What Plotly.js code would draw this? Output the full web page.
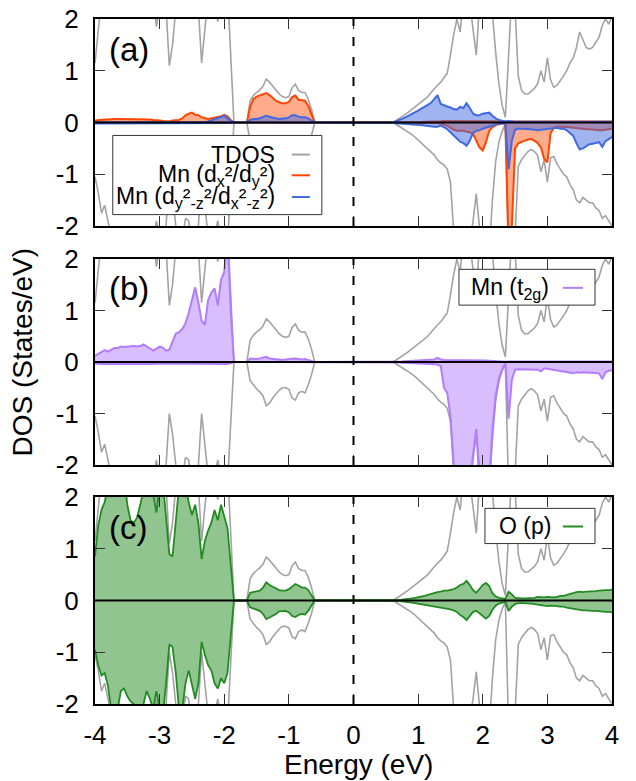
<!DOCTYPE html>
<html><head><meta charset="utf-8">
<script src="https://cdn.plot.ly/plotly-3.0.1.min.js"></script>
<style>html,body{margin:0;padding:0;background:#fff;}#chart{width:636px;height:781px;}</style>
</head><body><div id="chart"></div>
<script>
// Energy grid (eV)
const energy = [
-4.00,-3.95,-3.90,-3.85,-3.80,-3.75,-3.70,-3.65,-3.60,-3.55,
-3.50,-3.45,-3.40,-3.35,-3.30,-3.25,-3.20,-3.15,-3.10,-3.05,
-3.00,-2.95,-2.90,-2.85,-2.80,-2.75,-2.70,-2.65,-2.60,-2.55,
-2.50,-2.45,-2.40,-2.35,-2.30,-2.25,-2.20,-2.15,-2.10,-2.05,
-2.00,-1.95,-1.90,-1.85,-1.80,-1.75,-1.70,-1.65,-1.60,-1.55,
-1.50,-1.45,-1.40,-1.35,-1.30,-1.25,-1.20,-1.15,-1.10,-1.05,
-1.00,-0.95,-0.90,-0.85,-0.80,-0.75,-0.70,-0.65,-0.60,-0.55,
-0.50,-0.45,-0.40,-0.35,-0.30,-0.25,-0.20,-0.15,-0.10,-0.05,
0.00,0.05,0.10,0.15,0.20,0.25,0.30,0.35,0.40,0.45,
0.50,0.55,0.60,0.65,0.70,0.75,0.80,0.85,0.90,0.95,
1.00,1.05,1.10,1.15,1.20,1.25,1.30,1.35,1.40,1.45,
1.50,1.55,1.60,1.65,1.70,1.75,1.80,1.85,1.90,1.95,
2.00,2.05,2.10,2.15,2.20,2.25,2.30,2.35,2.40,2.45,
2.50,2.55,2.60,2.65,2.70,2.75,2.80,2.85,2.90,2.95,
3.00,3.05,3.10,3.15,3.20,3.25,3.30,3.35,3.40,3.45,
3.50,3.55,3.60,3.65,3.70,3.75,3.80,3.85,3.90,3.95,
4.00];

// Total DOS (spin up / spin down)
const tdosUp = [
1.15,1.9,2.4,2.6,2.5,2.7,2.6,2.8,2.7,2.9,
2.6,2.5,2.4,2.6,2.8,3.0,2.9,2.7,2.4,1.85,
2.3,2.7,2.2,1.1,1.5,2.3,2.9,2.8,2.6,2.4,
2.9,2.7,2.2,1.15,1.8,2.4,2.5,2.3,1.95,2.4,
2.8,2.6,1.3,0,0,0,0,0,0.42,0.52,
0.58,0.63,0.7,0.84,0.78,0.7,0.62,0.55,0.5,0.48,
0.5,0.67,0.74,0.62,0.58,0.58,0.45,0.25,0,0,
0,0,0,0,0,0,0,0,0,0,
0,0,0,0,0,0,0,0,0,0,
0,0,0,0.03,0.07,0.11,0.15,0.2,0.25,0.3,
0.35,0.4,0.45,0.5,0.58,0.66,0.72,0.78,0.86,0.95,
1.3,1.7,2.0,1.75,2.4,2.6,2.3,1.8,1.3,2.3,
2.8,2.9,2.5,2.1,1.35,0.75,0.33,0.1,1.3,2.5,
2.2,0.9,0.62,0.55,0.55,0.6,0.66,0.75,1.0,0.78,
1.25,0.82,0.68,0.72,0.8,0.9,1.0,1.15,1.25,1.45,
1.75,1.6,1.45,1.42,1.45,1.55,1.65,1.88,2.0,1.9,
2.05];
const tdosDn = [
-1.05,-1.35,-1.75,-1.6,-1.9,-2.3,-2.5,-2.4,-2.2,-2.3,
-2.4,-2.5,-2.6,-2.5,-2.7,-2.5,-2.3,-2.4,-2.3,-1.9,
-2.3,-2.6,-2.0,-1.0,-1.4,-2.1,-2.6,-2.3,-1.85,-1.9,
-2.5,-2.4,-2.0,-1.0,-1.6,-2.2,-2.4,-2.2,-1.9,-2.3,
-2.6,-2.4,-1.3,0,0,0,0,0,-0.36,-0.45,
-0.52,-0.58,-0.66,-0.85,-0.8,-0.7,-0.62,-0.55,-0.5,-0.5,
-0.53,-0.7,-0.74,-0.6,-0.57,-0.6,-0.44,-0.25,0,0,
0,0,0,0,0,0,0,0,0,0,
0,0,0,0,0,0,0,0,0,0,
0,0,0,-0.03,-0.07,-0.1,-0.14,-0.18,-0.23,-0.28,
-0.34,-0.39,-0.44,-0.5,-0.56,-0.63,-0.72,-0.78,-0.82,-0.9,
-1.15,-2.1,-2.4,-2.3,-2.6,-2.5,-2.3,-1.9,-1.38,-2.2,
-2.7,-2.5,-2.5,-1.5,-0.75,-0.38,-0.17,-0.03,-2.5,-2.6,
-2.2,-0.85,-0.72,-0.64,-0.56,-0.52,-0.56,-0.64,-0.95,-0.72,
-1.15,-0.68,-0.66,-0.8,-0.9,-1.0,-1.05,-1.2,-1.3,-1.5,
-1.55,-1.45,-1.5,-1.55,-1.55,-1.65,-1.7,-1.85,-1.8,-1.9,
-2.0];

// Mn (dx2/dy2)
const mnXYUp = [
0.04,0.05,0.05,0.06,0.06,0.07,0.07,0.07,0.07,0.07,
0.07,0.07,0.07,0.07,0.07,0.06,0.06,0.06,0.05,0.05,
0.04,0.03,0.02,0.02,0.04,0.05,0.05,0.08,0.14,0.17,
0.19,0.15,0.14,0.1,0.08,0.07,0.08,0.09,0.1,0.12,
0.15,0.12,0.05,0,0,0,0,0,0.3,0.45,
0.5,0.52,0.55,0.57,0.53,0.47,0.42,0.39,0.37,0.37,
0.4,0.49,0.52,0.44,0.43,0.42,0.32,0.15,0,0,
0,0,0,0,0,0,0,0,0,0,
0,0,0,0,0,0,0,0,0,0,
0,0,0,0,0,0,0.005,0.005,0.01,0.01,
0.01,0.01,0.015,0.015,0.02,0.02,0.025,0.025,0.03,0.03,
0.03,0.03,0.035,0.035,0.035,0.035,0.035,0.035,0.035,0.035,
0.035,0.035,0.03,0.03,0.03,0.025,0.02,0.02,0.02,0.02,
0.02,0.02,0.02,0.02,0.02,0.02,0.02,0.02,0.02,0.02,
0.02,0.02,0.02,0.02,0.02,0.02,0.02,0.02,0.02,0.02,
0.02,0.02,0.02,0.02,0.02,0.02,0.02,0.02,0.02,0.02,
0.02];
const mnXYDn = [
0,0,0,0,0,0,0,0,0,0,
0,0,0,0,0,0,0,0,0,0,
0,0,0,0,0,0,0,0,0,0,
0,0,0,0,0,0,0,0,0,0,
0,0,0,0,0,0,0,0,0,0,
0,0,0,0,0,0,0,0,0,0,
0,0,0,0,0,0,0,0,0,0,
0,0,0,0,0,0,0,0,0,0,
0,0,0,0,0,0,0,0,0,0,
0,0,0,0,0,0,0,0,0,0,
0,0,0,-0.005,-0.005,-0.01,-0.01,-0.02,-0.04,-0.06,
-0.1,-0.14,-0.16,-0.16,-0.16,-0.18,-0.19,-0.22,-0.35,-0.48,
-0.54,-0.38,-0.16,-0.09,-0.05,-0.03,-0.02,-0.02,-2.5,-2.0,
-0.5,-0.4,-0.37,-0.35,-0.33,-0.32,-0.35,-0.4,-0.48,-0.7,
-0.77,-0.2,-0.1,-0.08,-0.08,-0.08,-0.09,-0.09,-0.1,-0.11,
-0.12,-0.12,-0.13,-0.13,-0.14,-0.14,-0.15,-0.15,-0.14,-0.13,
-0.12];

// Mn (dy2-z2/dx2-z2)
const mnYZUp = [
0.005,0.005,0.005,0.005,0.005,0.005,0.005,0.005,0.005,0.005,
0.005,0.005,0.005,0.005,0.005,0.005,0.005,0.005,0.005,0.005,
0.005,0.005,0.005,0.005,0.005,0.005,0.005,0.005,0.005,0.005,
0.005,0.005,0.005,0.01,0.01,0.02,0.04,0.07,0.09,0.11,
0.13,0.08,0.03,0,0,0,0,0,0.05,0.07,
0.07,0.08,0.11,0.13,0.11,0.09,0.08,0.07,0.07,0.08,
0.1,0.14,0.14,0.11,0.1,0.1,0.08,0.04,0,0,
0,0,0,0,0,0,0,0,0,0,
0,0,0,0,0,0,0,0,0,0,
0,0,0,0.02,0.04,0.07,0.1,0.13,0.17,0.2,
0.23,0.27,0.3,0.34,0.38,0.45,0.53,0.36,0.33,0.31,
0.29,0.26,0.25,0.3,0.28,0.37,0.28,0.17,0.14,0.14,
0.17,0.18,0.19,0.13,0.08,0.05,0.03,0.02,0.03,0.02,
0.015,0.015,0.015,0.015,0.015,0.015,0.015,0.015,0.015,0.015,
0.015,0.015,0.015,0.015,0.015,0.015,0.015,0.015,0.015,0.015,
0.015,0.015,0.015,0.015,0.015,0.015,0.015,0.015,0.015,0.015,
0.015];
const mnYZDn = [
-0.02,-0.02,-0.02,-0.02,-0.02,-0.02,-0.02,-0.02,-0.02,-0.02,
-0.02,-0.02,-0.02,-0.02,-0.02,-0.02,-0.02,-0.02,-0.02,-0.02,
-0.02,-0.02,-0.02,-0.02,-0.02,-0.02,-0.02,-0.02,-0.02,-0.02,
-0.02,-0.02,-0.02,-0.02,-0.02,-0.02,-0.02,-0.02,-0.02,-0.02,
-0.02,-0.02,-0.01,0,0,0,0,0,-0.01,-0.01,
-0.01,-0.01,-0.01,-0.01,-0.01,-0.01,-0.01,-0.01,-0.01,-0.01,
-0.01,-0.01,-0.01,-0.01,-0.01,-0.01,-0.01,-0.01,0,0,
0,0,0,0,0,0,0,0,0,0,
0,0,0,0,0,0,0,0,0,0,
0,0,0,-0.01,-0.02,-0.02,-0.03,-0.03,-0.04,-0.04,
-0.05,-0.05,-0.06,-0.07,-0.08,-0.08,-0.08,-0.06,-0.09,-0.13,
-0.19,-0.25,-0.3,-0.37,-0.4,-0.45,-0.35,-0.2,-0.16,-0.15,
-0.12,-0.1,-0.09,-0.06,-0.04,-0.02,-0.02,-0.03,-0.9,-0.35,
-0.14,-0.12,-0.12,-0.12,-0.12,-0.13,-0.14,-0.15,-0.14,-0.13,
-0.12,-0.11,-0.1,-0.1,-0.12,-0.12,-0.15,-0.2,-0.26,-0.4,
-0.52,-0.5,-0.46,-0.42,-0.41,-0.39,-0.38,-0.47,-0.36,-0.32,
-0.28];

// Mn (t2g)
const mnT2gUp = [
0.12,0.16,0.2,0.23,0.2,0.24,0.27,0.27,0.3,0.29,
0.3,0.3,0.31,0.3,0.31,0.34,0.3,0.25,0.22,0.26,
0.3,0.28,0.22,0.24,0.4,0.55,0.58,0.64,0.75,0.95,
1.2,1.45,1.15,0.8,0.72,1.2,1.35,1.43,1.1,1.6,
1.75,2.5,1.0,0,0,0,0,0,0.07,0.06,
0.06,0.07,0.08,0.1,0.07,0.06,0.05,0.04,0.04,0.05,
0.06,0.07,0.07,0.06,0.05,0.06,0.04,0.02,0,0,
0,0,0,0,0,0,0,0,0,0,
0,0,0,0,0,0,0,0,0,0,
0,0,0,0.005,0.01,0.012,0.015,0.018,0.02,0.022,
0.025,0.028,0.03,0.035,0.04,0.05,0.08,0.05,0.04,0.04,
0.04,0.04,0.04,0.035,0.035,0.035,0.03,0.03,0.03,0.03,
0.03,0.03,0.025,0.02,0.02,0.015,0.01,0.005,0.01,0.01,
0.01,0.01,0.01,0.01,0.01,0.01,0.01,0.01,0.01,0.01,
0.01,0.01,0.01,0.01,0.01,0.01,0.01,0.01,0.01,0.01,
0.01,0.01,0.01,0.01,0.01,0.01,0.01,0.01,0.01,0.01,
0.01];
const mnT2gDn = [
-0.03,-0.04,-0.04,-0.04,-0.04,-0.05,-0.04,-0.04,-0.04,-0.04,
-0.04,-0.04,-0.05,-0.04,-0.04,-0.04,-0.04,-0.04,-0.04,-0.03,
-0.03,-0.03,-0.04,-0.04,-0.04,-0.04,-0.04,-0.04,-0.04,-0.04,
-0.04,-0.04,-0.04,-0.04,-0.04,-0.04,-0.04,-0.04,-0.04,-0.04,
-0.04,-0.04,-0.02,0,0,0,0,0,-0.01,-0.01,
-0.01,-0.01,-0.01,-0.01,-0.01,-0.01,-0.01,-0.01,-0.01,-0.01,
-0.01,-0.01,-0.01,-0.01,-0.01,-0.01,-0.01,-0.01,0,0,
0,0,0,0,0,0,0,0,0,0,
0,0,0,0,0,0,0,0,0,0,
0,0,0,-0.01,-0.01,-0.015,-0.015,-0.02,-0.02,-0.025,
-0.03,-0.03,-0.035,-0.035,-0.04,-0.045,-0.05,-0.08,-0.5,-0.6,
-1.05,-2.0,-2.6,-2.7,-2.6,-2.5,-2.4,-1.8,-1.3,-2.4,
-2.8,-2.6,-2.3,-1.3,-0.65,-0.33,-0.15,-0.02,-1.1,-0.35,
-0.15,-0.14,-0.14,-0.14,-0.14,-0.15,-0.15,-0.15,-0.18,-0.12,
-0.13,-0.14,-0.15,-0.17,-0.18,-0.18,-0.19,-0.2,-0.22,-0.2,
-0.21,-0.2,-0.21,-0.21,-0.21,-0.21,-0.22,-0.33,-0.2,-0.17,
-0.16];

// O (p)
const oPUp = [
0.85,1.45,1.75,1.9,2.2,2.0,2.3,2.1,2.3,2.4,
1.85,1.55,1.5,1.6,1.85,2.2,2.4,2.3,2.05,1.7,
2.2,2.3,1.6,0.9,0.85,1.5,2.2,2.4,2.2,1.9,
1.65,1.85,1.5,0.8,1.15,1.35,1.5,1.75,1.55,1.85,
1.6,1.4,0.7,0,0,0,0,0,0.15,0.16,
0.17,0.19,0.25,0.35,0.3,0.27,0.24,0.2,0.19,0.19,
0.22,0.28,0.32,0.29,0.25,0.25,0.2,0.1,0,0,
0,0,0,0,0,0,0,0,0,0,
0,0,0,0,0,0,0,0,0,0,
0,0,0,0.005,0.01,0.015,0.02,0.03,0.04,0.05,
0.06,0.07,0.09,0.11,0.13,0.14,0.16,0.17,0.19,0.19,
0.2,0.22,0.25,0.3,0.32,0.38,0.3,0.2,0.15,0.22,
0.3,0.34,0.28,0.14,0.08,0.05,0.04,0.03,0.17,0.12,
0.05,0.04,0.04,0.04,0.04,0.04,0.05,0.07,0.06,0.06,
0.07,0.06,0.06,0.07,0.09,0.09,0.11,0.12,0.14,0.16,
0.17,0.16,0.17,0.17,0.18,0.18,0.19,0.2,0.2,0.2,
0.21];
const oPDn = [
-0.95,-1.25,-1.45,-1.4,-1.65,-2.1,-2.2,-2.1,-1.75,-1.7,
-1.85,-1.95,-2.0,-2.1,-2.2,-2.0,-1.75,-1.9,-2.1,-1.75,
-2.1,-2.2,-1.6,-0.85,-0.9,-1.4,-2.1,-2.1,-1.6,-1.35,
-1.6,-1.9,-1.6,-0.8,-1.05,-1.25,-1.35,-1.6,-1.7,-1.5,
-1.6,-1.4,-0.7,0,0,0,0,0,-0.13,-0.15,
-0.18,-0.2,-0.26,-0.36,-0.33,-0.3,-0.26,-0.21,-0.2,-0.2,
-0.23,-0.3,-0.32,-0.28,-0.26,-0.27,-0.2,-0.1,0,0,
0,0,0,0,0,0,0,0,0,0,
0,0,0,0,0,0,0,0,0,0,
0,0,0,-0.005,-0.01,-0.015,-0.02,-0.03,-0.04,-0.05,
-0.06,-0.07,-0.08,-0.09,-0.1,-0.11,-0.12,-0.13,-0.14,-0.16,
-0.17,-0.19,-0.22,-0.28,-0.32,-0.38,-0.3,-0.22,-0.2,-0.25,
-0.3,-0.35,-0.3,-0.18,-0.1,-0.06,-0.04,-0.03,-0.2,-0.12,
-0.07,-0.05,-0.05,-0.05,-0.05,-0.06,-0.07,-0.08,-0.09,-0.1,
-0.11,-0.1,-0.1,-0.11,-0.12,-0.12,-0.14,-0.15,-0.17,-0.18,
-0.19,-0.19,-0.19,-0.2,-0.2,-0.2,-0.21,-0.21,-0.22,-0.22,
-0.23];

const xTickVals = [-4,-3,-2,-1,0,1,2,3,4];
const xTickText = ['-4','-3','-2','-1','0','1','2','3','4'];
const yTickVals = [-2,-1,0,1,2];
const yTickText = ['-2','-1','0','1','2'];
const legendA = ['TDOS',
  'Mn (d<sub>x</sub>²/d<sub>y</sub>²)',
  'Mn (d<sub>y</sub>²<sub>-z</sub>²/d<sub>x</sub>²<sub>-z</sub>²)'];
const legendB = 'Mn (t<sub>2g</sub>)';
const legendC = 'O (p)';
const panelLabels = ['(a)','(b)','(c)'];

const FONT = 'Liberation Sans, Arial, Helvetica, sans-serif';
const GRAY = '#a3a3a3';
const ORANGE = '#ff4500', ORANGE_F = 'rgba(255,69,0,0.45)';
const BLUE = '#4169e1', BLUE_F = 'rgba(65,105,225,0.5)';
const PURPLE = '#b27cff', PURPLE_F = 'rgba(178,124,255,0.5)';
const GREEN = '#228b22', GREEN_F = 'rgba(34,139,34,0.5)';

function tr(y, p, color, fillcolor, width) {
  const t = {x: energy, y: y, type: 'scatter', mode: 'lines',
    xaxis: p === 1 ? 'x' : 'x' + p, yaxis: p === 1 ? 'y' : 'y' + p,
    line: {color: color, width: width}, hoverinfo: 'skip', showlegend: false};
  if (fillcolor) { t.fill = 'tozeroy'; t.fillcolor = fillcolor; }
  return t;
}

const data = [
  tr(tdosUp,1,GRAY,null,1.6), tr(tdosDn,1,GRAY,null,1.6),
  tr(mnXYUp,1,ORANGE,ORANGE_F,2), tr(mnXYDn,1,ORANGE,ORANGE_F,2),
  tr(mnYZUp,1,BLUE,BLUE_F,2), tr(mnYZDn,1,BLUE,BLUE_F,2),
  tr(tdosUp,2,GRAY,null,1.6), tr(tdosDn,2,GRAY,null,1.6),
  tr(mnT2gUp,2,PURPLE,PURPLE_F,2), tr(mnT2gDn,2,PURPLE,PURPLE_F,2),
  tr(tdosUp,3,GRAY,null,1.6), tr(tdosDn,3,GRAY,null,1.6),
  tr(oPUp,3,GREEN,GREEN_F,1.8), tr(oPDn,3,GREEN,GREEN_F,1.8)
];

function xax(anchor, labels) {
  return {anchor: anchor, domain: [0,1], range: [-4,4], tickvals: xTickVals, ticktext: xTickText,
    showticklabels: labels, ticks: 'inside', ticklen: 10, tickwidth: 1, tickcolor: '#333',
    showline: true, linewidth: 2, linecolor: '#000', mirror: 'ticks', showgrid: false, zeroline: false,
    ticklabelstandoff: 7, fixedrange: true,
    tickfont: {family: FONT, size: 26, color: '#000'}};
}
function yax(anchor, domain) {
  return {anchor: anchor, domain: domain, range: [-2,2], tickvals: yTickVals, ticktext: yTickText,
    ticks: 'inside', ticklen: 10, tickwidth: 1, tickcolor: '#333',
    showline: true, linewidth: 2, linecolor: '#000', mirror: 'ticks', showgrid: false, zeroline: false,
    ticklabelstandoff: 9, fixedrange: true,
    tickfont: {family: FONT, size: 26, color: '#000'}};
}

const shapes = [];
const annotations = [];
for (let p = 1; p <= 3; p++) {
  const xs = p === 1 ? 'x' : 'x' + p, ys = p === 1 ? 'y' : 'y' + p;
  shapes.push({type: 'line', xref: xs + ' domain', x0: 0, x1: 1, yref: ys, y0: 0, y1: 0,
    line: {color: '#000', width: 2}, layer: 'above'});
  shapes.push({type: 'line', xref: xs, x0: 0, x1: 0, yref: ys + ' domain', y0: 0, y1: 1,
    line: {color: '#000', width: 2, dash: '9px,11px'}, layer: 'above'});
  annotations.push({text: panelLabels[p-1], xref: xs, yref: ys, x: -3.82, y: 1.42,
    xanchor: 'left', yanchor: 'middle', showarrow: false, font: {family: FONT, size: 33, color: '#000'}});
}
// legend (a)
shapes.push({type: 'rect', xref: 'x', yref: 'y', x0: -3.725, x1: -0.49, y0: -1.78, y1: -0.25,
  fillcolor: '#fff', line: {color: '#333', width: 1}, layer: 'above'});
const legAY = [-0.62, -1.02, -1.44];
const legAColors = [GRAY, ORANGE, BLUE];
for (let i = 0; i < 3; i++) {
  shapes.push({type: 'line', xref: 'x', yref: 'y', x0: -0.954, x1: -0.675, y0: legAY[i], y1: legAY[i],
    line: {color: legAColors[i], width: 2}, layer: 'above'});
  annotations.push({text: legendA[i], xref: 'x', yref: 'y', x: -1.186, y: legAY[i],
    xanchor: 'right', yanchor: 'middle', showarrow: false, font: {family: FONT, size: 23, color: '#000'}});
}
// legend (b)
shapes.push({type: 'rect', xref: 'x2', yref: 'y2', x0: 1.632, x1: 3.737, y0: 1.105, y1: 1.80,
  fillcolor: '#fff', line: {color: '#333', width: 1}, layer: 'above'});
shapes.push({type: 'line', xref: 'x2', yref: 'y2', x0: 3.24, x1: 3.55, y0: 1.44, y1: 1.44,
  line: {color: PURPLE, width: 2}, layer: 'above'});
annotations.push({text: legendB, xref: 'x2', yref: 'y2', x: 3.056, y: 1.43,
  xanchor: 'right', yanchor: 'middle', showarrow: false, font: {family: FONT, size: 23, color: '#000'}});
// legend (c)
shapes.push({type: 'rect', xref: 'x3', yref: 'y3', x0: 2.034, x1: 3.737, y0: 1.10, y1: 1.78,
  fillcolor: '#fff', line: {color: '#333', width: 1}, layer: 'above'});
shapes.push({type: 'line', xref: 'x3', yref: 'y3', x0: 3.24, x1: 3.55, y0: 1.43, y1: 1.43,
  line: {color: GREEN, width: 2}, layer: 'above'});
annotations.push({text: legendC, xref: 'x3', yref: 'y3', x: 3.087, y: 1.43,
  xanchor: 'right', yanchor: 'middle', showarrow: false, font: {family: FONT, size: 23, color: '#000'}});
// axis titles
annotations.push({text: 'DOS (States/eV)', xref: 'paper', yref: 'paper', x: -0.14, y: 0.514,
  textangle: -90, xanchor: 'center', yanchor: 'middle', showarrow: false,
  font: {family: FONT, size: 28, color: '#000'}});
annotations.push({text: 'Energy (eV)', xref: 'paper', yref: 'paper', x: 0.509, y: -0.089,
  xanchor: 'center', yanchor: 'middle', showarrow: false,
  font: {family: FONT, size: 28, color: '#000'}});

const layout = {
  width: 636, height: 781, margin: {l: 95, r: 24, t: 19, b: 77},
  paper_bgcolor: '#fff', plot_bgcolor: '#fff', showlegend: false,
  font: {family: FONT, color: '#000'},
  xaxis: xax('y', false), xaxis2: xax('y2', false), xaxis3: xax('y3', true),
  yaxis: yax('x', [0.6978, 1]), yaxis2: yax('x2', [0.3489, 0.6496]), yaxis3: yax('x3', [0, 0.3022]),
  shapes: shapes, annotations: annotations
};
Plotly.newPlot('chart', data, layout, {staticPlot: true, displayModeBar: false});
</script></body></html>
